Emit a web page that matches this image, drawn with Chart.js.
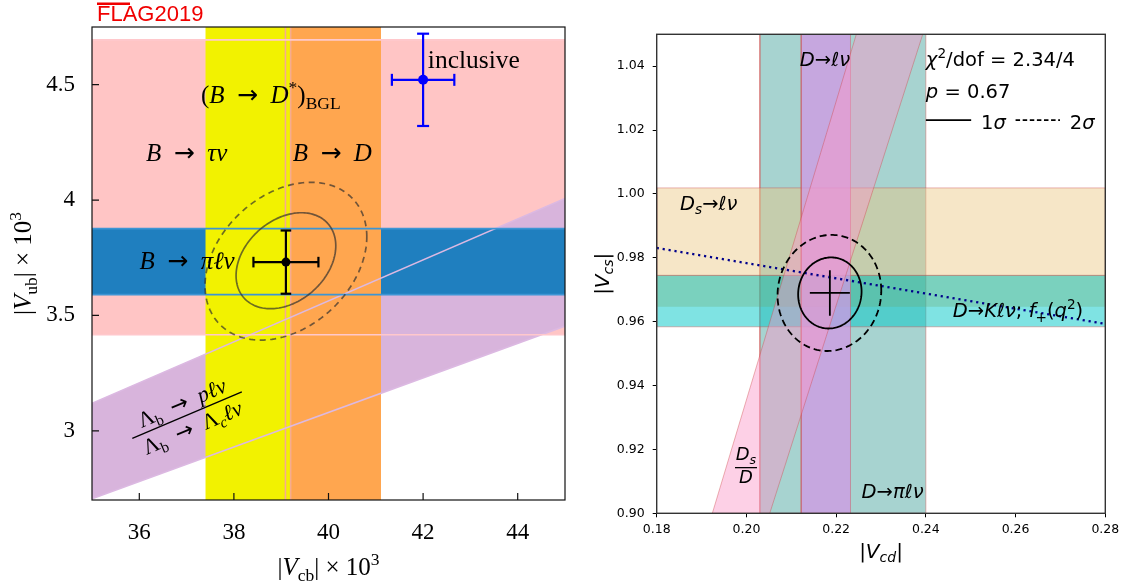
<!DOCTYPE html>
<html>
<head>
<meta charset="utf-8">
<script src="https://cdn.jsdelivr.net/npm/chart.js@4.4.1/dist/chart.umd.min.js"></script>
<style>
  body { margin: 0; background: #fff; width: 1126px; height: 588px; overflow: hidden; position: relative; }
  #left { position: absolute; left: 0; top: 0; }
  #right { position: absolute; left: 580px; top: 0; }
</style>
</head>
<body>
<canvas id="left" width="580" height="588"></canvas>
<canvas id="right" width="546" height="588"></canvas>
<script>
// ---- left panel: |Vub| x 10^3 vs |Vcb| x 10^3 ----
const vcbRange = [35, 45];
const vubRange = [2.7, 4.75];
const vcbTicks = [36, 38, 40, 42, 44];
const vcbTickLabels = ['36', '38', '40', '42', '44'];
const vubTicks = [3, 3.5, 4, 4.5];
const vubTickLabels = ['3', '3.5', '4', '4.5'];

const tauNuBand = [3.416, 4.694];   // B -> tau nu
const piLNuBand = [3.590, 3.876];   // B -> pi l nu
const dStarBand = [37.40, 39.20];   // (B -> D*)BGL
const bToDBand = [39.09, 41.11];    // B -> D
const lambdaUpper = [[35, 3.119], [45, 4.007]];
const lambdaLower = [[35, 2.705], [45, 3.454]];

const fitPoint = [39.10, 3.731];
const fitErr = [0.687, 0.137];
const inclPoint = [42.00, 4.521];
const inclErr = [0.66, 0.20];
// cx, cy, half width, half height, correlation
const fitEllipse1 = [39.10, 3.737, 1.054, 0.208, 0.31];
const fitEllipse2 = [39.10, 3.735, 1.71, 0.342, 0.31];

// ---- right panel: |Vcs| vs |Vcd| ----
const vcdRange = [0.18, 0.28];
const vcsRange = [0.90, 1.05];
const vcdTicks = [0.18, 0.20, 0.22, 0.24, 0.26, 0.28];
const vcdTickLabels = ['0.18', '0.20', '0.22', '0.24', '0.26', '0.28'];
const vcsTicks = [0.90, 0.92, 0.94, 0.96, 0.98, 1.00, 1.02, 1.04];
const vcsTickLabels = ['0.90', '0.92', '0.94', '0.96', '0.98', '1.00', '1.02', '1.04'];

const dPiBand = [0.2030, 0.2400];    // D -> pi l nu
const dLNuBand = [0.2122, 0.2232];   // D -> l nu
const dsLNuBand = [0.9745, 1.0019];  // Ds -> l nu
const dKBand = [0.9584, 0.9745];     // D -> K l nu
const dKInner = [0.9647, 0.9745];
const dsOverDLeft = [[0.1924, 0.90], [0.2245, 1.05]];
const dsOverDRight = [[0.2052, 0.90], [0.2393, 1.05]];
const dKLine = [[0.18, 0.9831], [0.28, 0.9593]];
const cdFit = [0.2186, 0.9690];
const cdErr = [0.00446, 0.00714];
const cdEllipse1 = [0.2186, 0.9690, 0.00707, 0.01113, 0.04];
const cdEllipse2 = [0.2185, 0.9690, 0.01156, 0.01818, 0.04];

// ---- helpers ----
const pts = arr => arr.map(([x, y]) => ({ x, y }));
const rect = (x0, x1, y0, y1) => pts([[x0, y0], [x1, y0], [x1, y1], [x0, y1], [x0, y0]]);
const hBand = (b, xr) => rect(xr[0], xr[1], b[0], b[1]);
const vBand = (b, yr) => rect(b[0], b[1], yr[0], yr[1]);
const quad = (a, b) => pts([a[0], a[1], b[1], b[0], a[0]]);
const hLine = (y, xr) => pts([[xr[0], y], [xr[1], y]]);
const vLine = (x, yr) => pts([[x, yr[0]], [x, yr[1]]]);

const area = (data, color, order, edge = 'rgba(0,0,0,0)', edgeWidth = 1) => ({
  data, showLine: true, fill: 'shape', backgroundColor: color,
  borderColor: edge, borderWidth: edgeWidth, pointRadius: 0, order
});
const line = (data, color, width, order, extra = {}) => ({
  data, showLine: true, fill: false, borderColor: color, borderWidth: width, pointRadius: 0, order, ...extra
});
const errBars = (p, e, color, width, cap, dot, order) => [
  line([{ x: p[0] - e[0], y: p[1] }, { x: p[0] + e[0], y: p[1] }], color, width, order,
    { pointStyle: 'line', pointRadius: cap, pointRotation: 90, pointBorderColor: color, pointBorderWidth: width }),
  line([{ x: p[0], y: p[1] - e[1] }, { x: p[0], y: p[1] + e[1] }], color, width, order,
    { pointStyle: 'line', pointRadius: cap, pointRotation: 0, pointBorderColor: color, pointBorderWidth: width }),
  { data: [{ x: p[0], y: p[1] }], pointRadius: dot, pointBackgroundColor: color, pointBorderWidth: 0, order }
];

const r = t => ({ t });
const it = t => ({ t, i: 1 });
const sb = t => ({ t, s: -1 });
const sp = t => ({ t, s: 1 });
const isb = t => ({ t, i: 1, s: -1 });
const arrowCM = { t: '\u2002→\u2002', f: '"DejaVu Sans"' };

function rich(ctx, parts, x, y, size, family, align = 'left') {
  const fontOf = p => `${p.i ? 'italic ' : ''}${p.s ? size * 0.7 : size}px ${p.f || family}`;
  let w = 0;
  parts.forEach(p => { ctx.font = fontOf(p); w += ctx.measureText(p.t).width; });
  let cx = align === 'center' ? x - w / 2 : align === 'right' ? x - w : x;
  ctx.textAlign = 'left';
  ctx.textBaseline = 'alphabetic';
  parts.forEach(p => {
    ctx.font = fontOf(p);
    const dy = p.s === -1 ? size * 0.22 : p.s === 1 ? -size * 0.4 : 0;
    ctx.fillText(p.t, cx, y + dy);
    cx += ctx.measureText(p.t).width;
  });
  return w;
}

function fraction(ctx, num, den, x, y, size, family, angle, half, numY, denY) {
  ctx.save();
  ctx.translate(x, y);
  ctx.rotate(angle);
  rich(ctx, num, 0, numY, size, family, 'center');
  rich(ctx, den, 0, denY, size, family, 'center');
  ctx.beginPath();
  ctx.moveTo(-half, 0);
  ctx.lineTo(half, 0);
  ctx.lineWidth = 1.3;
  ctx.strokeStyle = '#000';
  ctx.stroke();
  ctx.restore();
}

function drawEllipse(chart, e, dash, color, width) {
  const xs = chart.scales.x, ys = chart.scales.y, ctx = chart.ctx;
  const [cx, cy, sx, sy, rho] = e;
  ctx.save();
  ctx.beginPath();
  ctx.rect(chart.chartArea.left, chart.chartArea.top, chart.chartArea.width, chart.chartArea.height);
  ctx.clip();
  ctx.beginPath();
  for (let k = 0; k <= 180; k++) {
    const t = k / 180 * 2 * Math.PI;
    const px = xs.getPixelForValue(cx + sx * Math.cos(t));
    const py = ys.getPixelForValue(cy + sy * (rho * Math.cos(t) + Math.sqrt(1 - rho * rho) * Math.sin(t)));
    if (k) ctx.lineTo(px, py); else ctx.moveTo(px, py);
  }
  ctx.closePath();
  ctx.setLineDash(dash);
  ctx.strokeStyle = color;
  ctx.lineWidth = width;
  ctx.stroke();
  ctx.restore();
}

const fixedTicks = (values) => s => { s.ticks = values.map(v => ({ value: v })); };

// ---- left chart ----
const SERIF = '"Liberation Serif", "DejaVu Serif", serif';

const leftDatasets = [
  ...errBars(inclPoint, inclErr, '#0000ff', 2.2, 6, 5, 1),
  ...errBars(fitPoint, fitErr, '#000000', 2.2, 5.3, 4.5, 1),
  line(hLine(tauNuBand[0], vcbRange), '#ffc8cc', 1.6, 2),
  line(hLine(tauNuBand[1], vcbRange), '#ffc8cc', 1.6, 2),
  line(hLine(piLNuBand[0], vcbRange), '#3d95d4', 1.6, 2),
  line(hLine(piLNuBand[1], vcbRange), '#3d95d4', 1.6, 2),
  line(pts(lambdaUpper), '#dcb9e2', 1.6, 2),
  line(pts(lambdaLower), '#dcb9e2', 1.6, 2),
  line(vLine(bToDBand[0], vubRange), '#f7ab8f', 1.6, 2),
  line(vLine(dStarBand[1], vubRange), '#f7ab8f', 1.6, 2),
  area(vBand(dStarBand, vubRange), '#f2f200', 3),
  area(vBand(bToDBand, vubRange), '#ffa64f', 4),
  area(hBand(piLNuBand, vcbRange), '#1f7fbf', 5),
  area(quad(lambdaUpper, lambdaLower), '#d8b4dc', 6),
  area(hBand(tauNuBand, vcbRange), '#ffc5c5', 7)
];

const leftDecor = {
  id: 'leftDecor',
  afterDatasetsDraw(chart) {
    const ctx = chart.ctx, xs = chart.scales.x, ys = chart.scales.y, a = chart.chartArea;
    const X = v => xs.getPixelForValue(v), Y = v => ys.getPixelForValue(v);
    drawEllipse(chart, fitEllipse1, [], 'rgba(45,45,45,0.68)', 1.7);
    drawEllipse(chart, fitEllipse2, [6, 4.5], 'rgba(45,45,45,0.68)', 1.7);

    ctx.save();
    ctx.fillStyle = '#000';
    rich(ctx, [r('('), it('B'), arrowCM, it('D'), sp('*'), r(')'), sb('BGL')], X(38.78), Y(4.42), 25, SERIF, 'center');
    rich(ctx, [it('B'), arrowCM, it('τν')], X(37.0), Y(4.171), 25, SERIF, 'center');
    rich(ctx, [it('B'), arrowCM, it('D')], X(40.08), Y(4.171), 25, SERIF, 'center');
    rich(ctx, [it('B'), arrowCM, it('πℓν')], X(37.01), Y(3.70), 25, SERIF, 'center');
    rich(ctx, [r('inclusive')], X(42.10), Y(4.572), 25.5, SERIF, 'left');
    fraction(ctx,
      [r('Λ'), sb('b'), arrowCM, it('pℓν')],
      [r('Λ'), sb('b'), arrowCM, r('Λ'), isb('c'), it('ℓν')],
      X(37.01), Y(3.068), 22, SERIF, -23 * Math.PI / 180, 59.5, -6, 21);

    // frame and inward ticks
    ctx.strokeStyle = '#111';
    ctx.lineWidth = 1.2;
    ctx.strokeRect(a.left, a.top, a.width, a.height);
    ctx.beginPath();
    xs.ticks.forEach(t => { ctx.moveTo(X(t.value), a.bottom); ctx.lineTo(X(t.value), a.bottom - 7); });
    ys.ticks.forEach(t => { ctx.moveTo(a.left, Y(t.value)); ctx.lineTo(a.left + 7, Y(t.value)); });
    ctx.stroke();

    // axis titles
    rich(ctx, [r('|'), it('V'), sb('cb'), r('| × 10'), sp('3')], (a.left + a.right) / 2, 575, 25, SERIF, 'center');
    ctx.save();
    ctx.translate(31, (a.top + a.bottom) / 2);
    ctx.rotate(-Math.PI / 2);
    rich(ctx, [r('|'), it('V'), sb('ub'), r('| × 10'), sp('3')], 0, 0, 25, SERIF, 'center');
    ctx.restore();

    // FLAG logo
    ctx.fillStyle = '#f00000';
    ctx.font = '22px "Liberation Sans", Arial, sans-serif';
    ctx.textAlign = 'left';
    ctx.textBaseline = 'alphabetic';
    ctx.fillText('FLAG2019', 97, 20.5);
    ctx.fillRect(97, 2.5, 33, 2.5);
    ctx.restore();
  }
};

new Chart(document.getElementById('left'), {
  type: 'scatter',
  data: { datasets: leftDatasets },
  options: {
    responsive: false,
    animation: false,
    devicePixelRatio: 1,
    events: [],
    layout: { padding: { left: 0, right: 15, top: 27, bottom: 0 } },
    plugins: { legend: { display: false }, tooltip: { enabled: false } },
    scales: {
      x: {
        type: 'linear', min: vcbRange[0], max: vcbRange[1],
        afterBuildTicks: fixedTicks(vcbTicks),
        afterFit: s => { s.height = 88; },
        grid: { display: false }, border: { display: false },
        ticks: { color: '#000', padding: 11, maxRotation: 0, autoSkip: false,
          font: { family: SERIF, size: 23 }, callback: (v, i) => vcbTickLabels[i] }
      },
      y: {
        type: 'linear', min: vubRange[0], max: vubRange[1],
        afterBuildTicks: fixedTicks(vubTicks),
        afterFit: s => { s.width = 92; },
        grid: { display: false }, border: { display: false },
        ticks: { color: '#000', padding: 9, autoSkip: false,
          font: { family: SERIF, size: 23 }, callback: (v, i) => vubTickLabels[i] }
      }
    }
  },
  plugins: [leftDecor]
});

// ---- right chart ----
const SANS = '"DejaVu Sans", sans-serif';
const EDGE = 'rgba(205,70,70,0.4)';
const TS = 19.5;

const rightDatasets = [
  line(hLine(cdFit[1], [cdFit[0] - cdErr[0], cdFit[0] + cdErr[0]]), '#000', 1.8, 1),
  line(vLine(cdFit[0], [cdFit[1] - cdErr[1], cdFit[1] + cdErr[1]]), '#000', 1.8, 1),
  line(pts(dKLine), '#00008b', 2.3, 2, { borderDash: [2.2, 3.8] }),
  area(quad(dsOverDLeft, dsOverDRight), 'rgba(250,150,200,0.45)', 3, EDGE, 1),
  area(vBand(dLNuBand, vcsRange), 'rgba(208,152,228,0.75)', 4, EDGE, 1),
  area(hBand(dKInner, vcdRange), 'rgba(110,170,105,0.3)', 5),
  area(hBand(dKBand, vcdRange), 'rgba(0,200,200,0.5)', 6, EDGE, 1),
  area(hBand(dsLNuBand, vcdRange), 'rgba(235,200,130,0.45)', 7, EDGE, 1),
  area(vBand(dPiBand, vcsRange), 'rgba(95,174,170,0.55)', 8, EDGE, 1)
];

const rightDecor = {
  id: 'rightDecor',
  afterDatasetsDraw(chart) {
    const ctx = chart.ctx, xs = chart.scales.x, ys = chart.scales.y, a = chart.chartArea;
    const X = v => xs.getPixelForValue(v), Y = v => ys.getPixelForValue(v);
    drawEllipse(chart, cdEllipse1, [], '#000', 1.8);
    drawEllipse(chart, cdEllipse2, [7, 4], '#000', 1.8);

    ctx.save();
    ctx.fillStyle = '#000';
    rich(ctx, [it('D'), r('→'), it('ℓν')], X(0.2175), Y(1.0402), TS, SANS, 'center');
    rich(ctx, [it('χ'), sp('2'), r('/dof = 2.34/4')], X(0.2400), Y(1.040), TS, SANS, 'left');
    rich(ctx, [it('p'), r(' = 0.67')], X(0.2400), Y(1.030), TS, SANS, 'left');
    rich(ctx, [r('1'), it('σ')], X(0.2523), Y(1.0205), TS, SANS, 'left');
    rich(ctx, [r('2'), it('σ')], X(0.2721), Y(1.0205), TS, SANS, 'left');
    ctx.strokeStyle = '#000';
    ctx.lineWidth = 1.7;
    ctx.beginPath();
    ctx.moveTo(X(0.2400), Y(1.0231));
    ctx.lineTo(X(0.2501), Y(1.0231));
    ctx.stroke();
    ctx.setLineDash([4.5, 2.6]);
    ctx.beginPath();
    ctx.moveTo(X(0.2600), Y(1.0231));
    ctx.lineTo(X(0.2699), Y(1.0231));
    ctx.stroke();
    ctx.setLineDash([]);

    rich(ctx, [it('D'), isb('s'), r('→'), it('ℓν')], X(0.1852), Y(0.9951), TS, SANS, 'left');
    rich(ctx, [it('D'), r('→'), it('Kℓν'), r('; '), it('f'), sb('+'), r('('), it('q'), sp('2'), r(')')],
      X(0.2460), Y(0.9614), TS, SANS, 'left');
    rich(ctx, [it('D'), r('→'), it('πℓν')], X(0.2395), Y(0.9049), TS, SANS, 'right');
    fraction(ctx, [it('D'), isb('s')], [it('D')], X(0.1999), Y(0.9143), 18, SANS, 0, 11, -8, 15.5);

    // frame
    ctx.strokeStyle = '#333';
    ctx.lineWidth = 1.4;
    ctx.strokeRect(a.left, a.top, a.width, a.height);

    // axis titles
    rich(ctx, [r('|'), it('V'), isb('cd'), r('|')], (a.left + a.right) / 2, 558, 20, SANS, 'center');
    ctx.save();
    ctx.translate(29, (a.top + a.bottom) / 2);
    ctx.rotate(-Math.PI / 2);
    rich(ctx, [r('|'), it('V'), isb('cs'), r('|')], 0, 0, 20, SANS, 'center');
    ctx.restore();
    ctx.restore();
  }
};

new Chart(document.getElementById('right'), {
  type: 'scatter',
  data: { datasets: rightDatasets },
  options: {
    responsive: false,
    animation: false,
    devicePixelRatio: 1,
    events: [],
    layout: { padding: { left: 0, right: 20.7, top: 34.3, bottom: 0 } },
    plugins: { legend: { display: false }, tooltip: { enabled: false } },
    scales: {
      x: {
        type: 'linear', min: vcdRange[0], max: vcdRange[1],
        afterBuildTicks: fixedTicks(vcdTicks),
        afterFit: s => { s.height = 74.7; },
        grid: { display: true, drawOnChartArea: false, tickLength: 4, tickColor: '#000', tickWidth: 1 },
        border: { display: false },
        ticks: { color: '#000', padding: 5, maxRotation: 0, autoSkip: false,
          font: { family: SANS, size: 12.5 }, callback: (v, i) => vcdTickLabels[i] }
      },
      y: {
        type: 'linear', min: vcsRange[0], max: vcsRange[1],
        afterBuildTicks: fixedTicks(vcsTicks),
        afterFit: s => { s.width = 76.7; },
        grid: { display: true, drawOnChartArea: false, tickLength: 4, tickColor: '#000', tickWidth: 1 },
        border: { display: false },
        ticks: { color: '#000', padding: 8, autoSkip: false,
          font: { family: SANS, size: 12.5 }, callback: (v, i) => vcsTickLabels[i] }
      }
    }
  },
  plugins: [rightDecor]
});
</script>
</body>
</html>
